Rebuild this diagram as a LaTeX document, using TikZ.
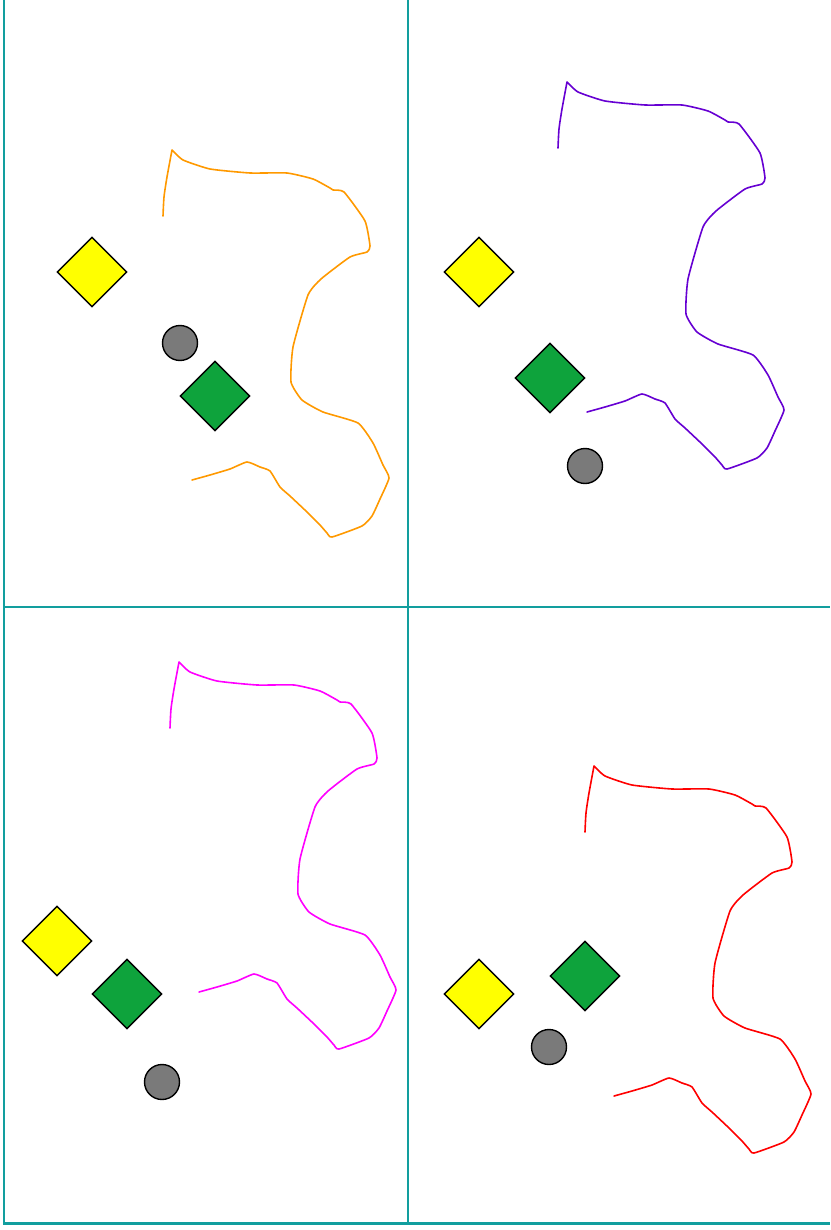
\documentclass[tikz,border=0pt]{standalone}
\usetikzlibrary{shapes.geometric}
\definecolor{frame}{RGB}{18,158,158}
\definecolor{ygreen}{RGB}{14,163,60}
\definecolor{ggray}{RGB}{122,122,122}
\definecolor{cpurple}{RGB}{102,0,210}
\definecolor{corange}{RGB}{255,153,0}
\definecolor{cyellow}{RGB}{255,255,0}
\definecolor{cmagenta}{RGB}{255,0,255}
\definecolor{cred}{RGB}{255,0,0}
\newcommand\blobpath[1]{%
  \draw[blobline,#1] plot[smooth,tension=0.4] coordinates {(163,216) (164,197) (167,177) (172,150)}
    plot[smooth,tension=0.3] coordinates {(172,150) (183,160) (210,169) (250,173) (287,173) (313,179) (330,188) (333,190) (344,192) (365,221) (370,246) (367,252) (350,257) (321,279) (308,295) (293,347) (291,382) (302,400) (323,412) (358,423) (373,443) (383,465) (389,478) (380,499) (372,516) (362,526) (332,537) (327,533) (320,525) (307,512) (290,496) (280,487) (270,471) (260,467) (247,462) (230,469) (210,475) (192,480)};}
\begin{document}
\begin{tikzpicture}[x=1pt,y=-1pt,
  framel/.style={draw=frame,line width=2pt},
  blobline/.style={line width=1.6pt,line cap=round,line join=round},
  dia/.style={diamond,draw=black,line width=1.4pt,minimum width=70pt,minimum height=70pt,inner sep=0pt},
  ydia/.style={dia,fill=cyellow},
  gdia/.style={dia,fill=ygreen},
  dot/.style={circle,draw=black,line width=1.4pt,fill=ggray,minimum size=35pt,inner sep=0pt}]
\useasboundingbox (0,0) rectangle (830,1230);
% frame
\draw[framel] (4,0) -- (4,1223);
\draw[framel] (408,0) -- (408,1223);
\draw[framel] (4,607) -- (830,607);
\draw[draw=frame,line width=3pt] (3,1223) -- (830,1223);
% panel 1
\blobpath{corange}
\node[ydia] (y1) at (92,272) {};
\node[dot] (c1) at (180,343) {};
\node[gdia] (g1) at (215,396) {};
% panel 2
\begin{scope}[shift={(395,-68)}]
\blobpath{cpurple}
\end{scope}
\node[ydia] (y2) at (479,272) {};
\node[gdia] (g2) at (550,378) {};
\node[dot] (c2) at (585,466) {};
% panel 3
\begin{scope}[shift={(7,512)}]
\blobpath{cmagenta}
\end{scope}
\node[ydia] (y3) at (57,941) {};
\node[gdia] (g3) at (127,994) {};
\node[dot] (c3) at (162,1082) {};
% panel 4
\begin{scope}[shift={(422,616)}]
\blobpath{cred}
\end{scope}
\node[ydia] (y4) at (479,994) {};
\node[gdia] (g4) at (585,976) {};
\node[dot] (c4) at (549,1047) {};
\end{tikzpicture}
\end{document}
